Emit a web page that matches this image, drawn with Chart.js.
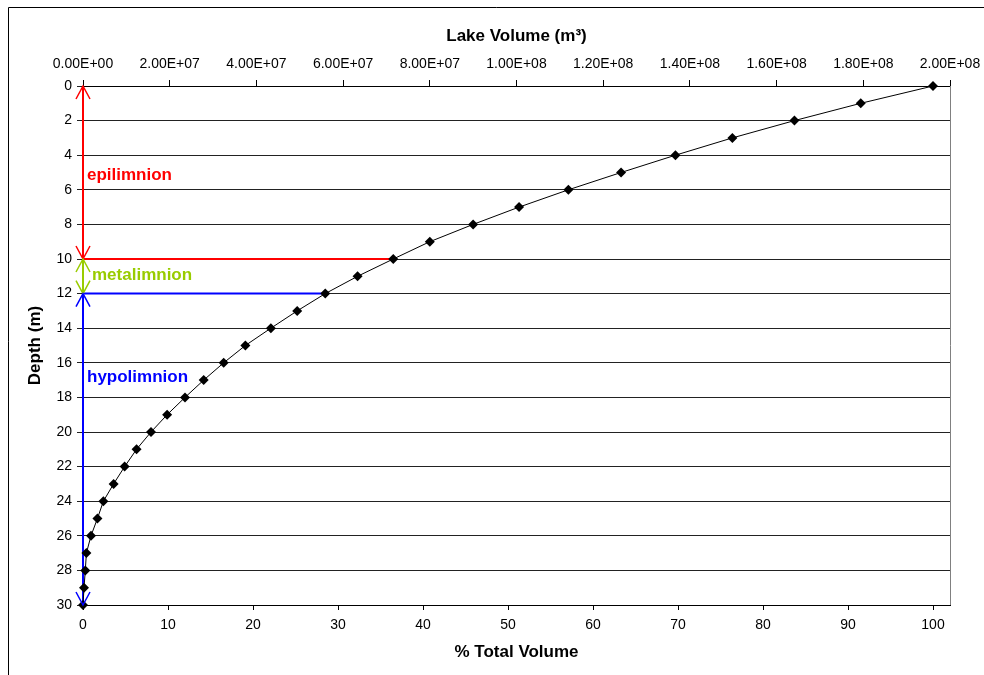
<!DOCTYPE html>
<html>
<head>
<meta charset="utf-8">
<script src="https://cdn.jsdelivr.net/npm/chart.js@4.4.1/dist/chart.umd.min.js"></script>
<style>
  html, body { margin: 0; padding: 0; background: #fff; }
  canvas { display: block; }
</style>
</head>
<body>
<canvas id="lakeChart" width="984" height="675"></canvas>
<script>
// depth (m) and cumulative % of total lake volume below that depth
const depths = [0, 1, 2, 3, 4, 5, 6, 7, 8, 9, 10, 11, 12, 13, 14, 15, 16, 17, 18, 19, 20, 21, 22, 23, 24, 25, 26, 27, 28, 29, 30];
const pctVolume = [100, 91.5, 83.7, 76.4, 69.7, 63.3, 57.1, 51.3, 45.9, 40.8, 36.5, 32.3, 28.5, 25.2, 22.1, 19.1, 16.55, 14.2, 12.0, 9.9, 8.0, 6.3, 4.9, 3.6, 2.4, 1.7, 0.94, 0.4, 0.27, 0.12, 0];

// thermal layers
const layerNames = ["epilimnion", "metalimnion", "hypolimnion"];
const layerTop = [0, 10, 12];
const layerBottom = [10, 12, 30];
const layerLabelDepth = [5.15, 10.95, 16.85];

// axis ranges / ticks
const pctTicks = [0, 10, 20, 30, 40, 50, 60, 70, 80, 90, 100];
const volumeMax = 2.0e8;
const volumeStep = 2.0e7;
const depthStep = 2;

const layerColors = ["#ff0000", "#99cc00", "#0000ff"];
const FONT = "'Liberation Sans', Arial, Helvetica, sans-serif";

function sci(v) {
  if (v === 0) return "0.00E+00";
  const e = Math.floor(Math.log10(v) + 1e-9);
  const m = v / Math.pow(10, e);
  return `${m.toFixed(2)}E+${String(e).padStart(2, "0")}`;
}

function pctAt(d) {
  return pctVolume[depths.indexOf(d)];
}

const volumeData = depths.map((d, i) => ({ x: pctVolume[i], y: d }));

function seg(x0, y0, x1, y1, color) {
  return {
    data: [{ x: x0, y: y0 }, { x: x1, y: y1 }],
    borderColor: color,
    borderWidth: 2,
    showLine: true,
    pointRadius: 0,
    clip: false,
    order: 1,
  };
}

const layerSets = [];
layerNames.forEach((name, i) => {
  layerSets.push(seg(0, layerTop[i], 0, layerBottom[i], layerColors[i]));
});
// boundary lines across to the curve
layerSets.push(seg(0, layerBottom[0], pctAt(layerBottom[0]), layerBottom[0], layerColors[0]));
layerSets.push(seg(0, layerTop[2], pctAt(layerTop[2]), layerTop[2], layerColors[2]));

const bgPlugin = {
  id: "bg",
  beforeDraw(chart) {
    const { ctx, width, height } = chart;
    ctx.save();
    ctx.fillStyle = "#fff";
    ctx.fillRect(0, 0, width, height);
    ctx.strokeStyle = "#000";
    ctx.lineWidth = 1;
    ctx.beginPath();
    ctx.moveTo(8.5, height);
    ctx.lineTo(8.5, 7.5);
    ctx.lineTo(width, 7.5);
    ctx.stroke();
    ctx.restore();
  },
  afterDraw(chart) {
    const { ctx, chartArea: a } = chart;
    ctx.save();
    ctx.strokeStyle = "#808080";
    ctx.lineWidth = 1;
    ctx.beginPath();
    ctx.moveTo(Math.round(a.right) + 0.5, a.top);
    ctx.lineTo(Math.round(a.right) + 0.5, a.bottom);
    ctx.stroke();
    ctx.restore();
  },
};

const layerPlugin = {
  id: "layers",
  afterDatasetsDraw(chart) {
    const { ctx, scales } = chart;
    const x0 = scales.x.getPixelForValue(0);
    ctx.save();
    ctx.lineWidth = 1.5;
    layerNames.forEach((name, i) => {
      const yt = scales.y.getPixelForValue(layerTop[i]);
      const yb = scales.y.getPixelForValue(layerBottom[i]);
      ctx.strokeStyle = layerColors[i];
      ctx.beginPath();
      ctx.moveTo(x0 - 7, yt + 13);
      ctx.lineTo(x0, yt);
      ctx.lineTo(x0 + 7, yt + 13);
      ctx.moveTo(x0 - 7, yb - 13);
      ctx.lineTo(x0, yb);
      ctx.lineTo(x0 + 7, yb - 13);
      ctx.stroke();

      ctx.fillStyle = layerColors[i];
      ctx.font = `bold 17px ${FONT}`;
      ctx.textAlign = "left";
      ctx.textBaseline = "middle";
      const dx = i === 1 ? 9 : 4;
      ctx.fillText(name, x0 + dx, scales.y.getPixelForValue(layerLabelDepth[i]));
    });
    ctx.restore();
  },
};

function fitX(h) {
  return (s) => {
    s.height = h;
    s.paddingLeft = 0;
    s.paddingRight = 0;
  };
}

new Chart(document.getElementById("lakeChart"), {
  type: "scatter",
  data: {
    datasets: [
      {
        label: "% Total Volume",
        data: volumeData,
        showLine: true,
        borderColor: "#000",
        borderWidth: 1,
        pointStyle: "rectRot",
        pointRadius: 5,
        pointBackgroundColor: "#000",
        pointBorderColor: "#000",
        pointBorderWidth: 0,
        clip: false,
        order: 0,
      },
      ...layerSets,
    ],
  },
  options: {
    responsive: false,
    animation: false,
    layout: { padding: { left: 0, right: 34, top: 0, bottom: 0 } },
    plugins: { legend: { display: false }, tooltip: { enabled: false } },
    scales: {
      x: {
        type: "linear",
        position: "bottom",
        min: 0,
        max: 102,
        afterBuildTicks: (s) => {
          s.ticks = pctTicks.map((v) => ({ value: v }));
        },
        ticks: { color: "#000", font: { family: FONT, size: 14 }, padding: 7 },
        grid: { drawOnChartArea: false, drawTicks: true, tickLength: 5, color: "#000" },
        border: { color: "#000", width: 1 },
        title: {
          display: true,
          text: "% Total Volume",
          color: "#000",
          font: { family: FONT, size: 17, weight: "bold" },
          padding: { top: 0, bottom: 12 },
        },
        afterFit: fitX(70),
      },
      x2: {
        type: "linear",
        position: "top",
        min: 0,
        max: volumeMax,
        ticks: {
          stepSize: volumeStep,
          color: "#000",
          font: { family: FONT, size: 14 },
          padding: 7,
          callback: (v) => sci(v),
        },
        grid: { drawOnChartArea: false, drawTicks: true, tickLength: 6, color: "#000" },
        border: { color: "#000", width: 1 },
        title: {
          display: true,
          text: "Lake Volume (m³)",
          color: "#000",
          font: { family: FONT, size: 17, weight: "bold" },
          padding: { top: 26, bottom: 0 },
        },
        afterFit: fitX(86),
      },
      y: {
        type: "linear",
        position: "left",
        reverse: true,
        min: 0,
        max: 30,
        ticks: { stepSize: depthStep, color: "#000", font: { family: FONT, size: 14 }, padding: 5 },
        grid: { color: "#222", lineWidth: 1, tickLength: 6 },
        border: { color: "#000", width: 1 },
        title: {
          display: true,
          text: "Depth (m)",
          color: "#000",
          font: { family: FONT, size: 17, weight: "bold" },
          padding: { top: 25, bottom: 0 },
        },
        afterFit: (s) => { s.width = 83; s.paddingTop = 0; s.paddingBottom = 0; },
      },
    },
  },
  plugins: [bgPlugin, layerPlugin],
});
</script>
</body>
</html>
